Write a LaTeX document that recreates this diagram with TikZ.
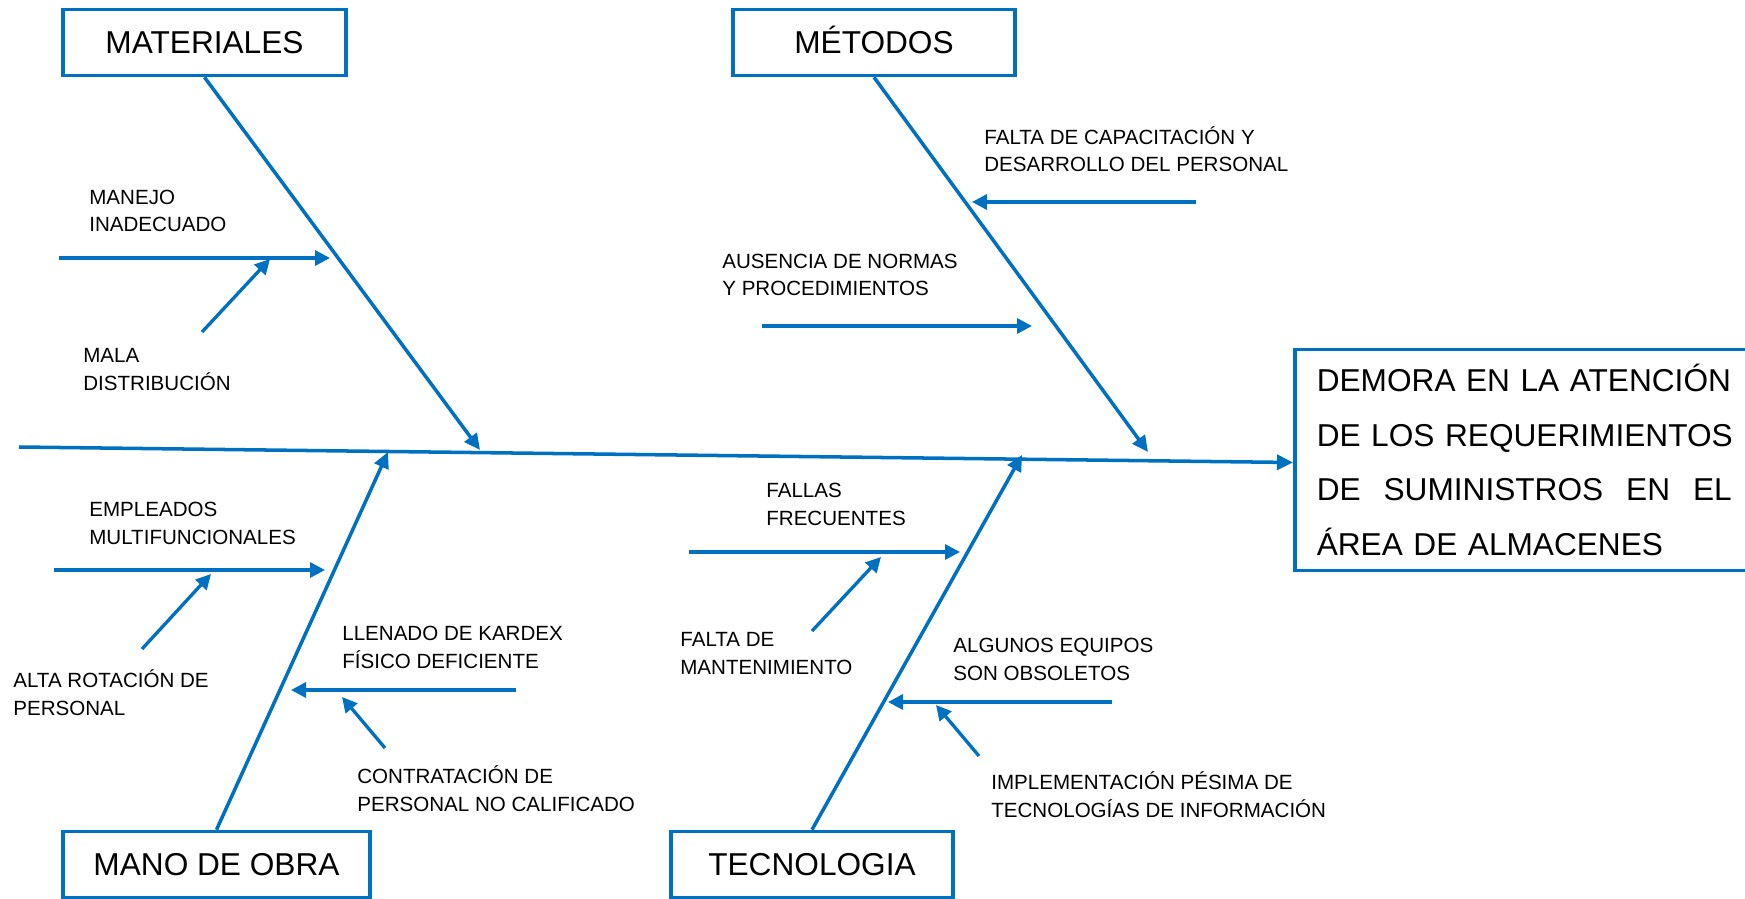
\documentclass[tikz,border=0pt]{standalone}
\usepackage{fontspec}
\setmainfont{Liberation Sans}
\usetikzlibrary{arrows.meta}
\definecolor{fbblue}{RGB}{0,112,192}

\begin{document}
\begin{tikzpicture}[x=0.2mm,y=-0.2mm,
    cat/.style={draw=fbblue,line width=2pt,minimum height=1.32cm,inner sep=0pt,
                text height=13pt,text depth=0pt,font=\fontsize{18}{22}\selectfont},
    lbl/.style={anchor=base west,inner sep=0pt,align=left,font=\fontsize{11.7}{15.4}\selectfont},
    arr/.style={fbblue,line width=1.9pt,-{Triangle[length=3mm,width=3mm]}},
    bone/.style={fbblue,line width=2pt,-{Triangle[length=3.2mm,width=3mm]}}]
    \useasboundingbox (0,0) rectangle (1745,899);

    \node[cat,minimum width=5.66cm] (mat) at (204.5,42.5) {MATERIALES};
    \node[cat,minimum width=5.64cm] (met) at (874,42.5) {MÉTODOS};
    \node[cat,minimum width=6.14cm] (mob) at (216.5,864.5) {MANO DE OBRA};
    \node[cat,minimum width=5.64cm] (tec) at (812,864.5) {TECNOLOGIA};
    \node[draw=fbblue,line width=2pt,anchor=west,minimum height=4.42cm,text width=8.3cm,
          inner xsep=0.44cm,inner ysep=0pt,align=left,font=\fontsize{18}{31.2}\selectfont]
          (eff) at (1293,460)
          {\makebox[8.3cm][s]{DEMORA EN LA ATENCIÓN}\\
           \makebox[8.3cm][s]{DE LOS REQUERIMIENTOS}\\
           \makebox[8.3cm]{DE\hfill SUMINISTROS\hfill EN\hfill EL}\\
           ÁREA DE ALMACENES};

    % spine and main bones
    \coordinate (tail) at (19,447);
    \coordinate (t1) at (480,450);
    \coordinate (t2) at (1148,452);
    \coordinate (t3) at (388,452);
    \coordinate (t4) at (1022,455);
    \path[bone] (tail) edge ([yshift=-0.05cm]eff.west);
    \path[bone] (mat.south) edge (t1);
    \path[bone] (met.south) edge (t2);
    \path[bone] (mob.north) edge (t3);
    \path[bone] (tec.north) edge (t4);

    % materiales
    \node[lbl] (l1) at (89,232) {MANEJO\\INADECUADO};
    \node[lbl] (l2) at (83,390) {MALA\\DISTRIBUCIÓN};
    \coordinate (a1) at (59,258);
    \coordinate (b1) at (330,258);
    \coordinate (a2) at (202,332);
    \coordinate (b2) at (270,259);
    \path[arr] (a1) edge (b1);
    \path[arr] (a2) edge (b2);

    % metodos
    \node[lbl] (l3) at (984,172) {FALTA DE CAPACITACIÓN Y\\DESARROLLO DEL PERSONAL};
    \node[lbl] (l4) at (722,296) {AUSENCIA DE NORMAS\\Y PROCEDIMIENTOS};
    \coordinate (a3) at (1196,202);
    \coordinate (b3) at (972,202);
    \coordinate (a4) at (762,326);
    \coordinate (b4) at (1032,326);
    \path[arr] (a3) edge (b3);
    \path[arr] (a4) edge (b4);

    % mano de obra
    \node[lbl] (l5) at (89,544) {EMPLEADOS\\MULTIFUNCIONALES};
    \node[lbl] (l6) at (13,715) {ALTA ROTACIÓN DE\\PERSONAL};
    \node[lbl] (l7) at (342,668) {LLENADO DE KARDEX\\FÍSICO DEFICIENTE};
    \node[lbl] (l8) at (357,811) {CONTRATACIÓN DE\\PERSONAL NO CALIFICADO};
    \coordinate (a5) at (54,570);
    \coordinate (b5) at (325,570);
    \coordinate (a6) at (142,649);
    \coordinate (b6) at (211,574);
    \coordinate (a7) at (516,690);
    \coordinate (b7) at (291,690);
    \coordinate (a8) at (385,748);
    \coordinate (b8) at (342,697);
    \path[arr] (a5) edge (b5);
    \path[arr] (a6) edge (b6);
    \path[arr] (a7) edge (b7);
    \path[arr] (a8) edge (b8);

    % tecnologia
    \node[lbl] (l9) at (766,525) {FALLAS\\FRECUENTES};
    \node[lbl] (l10) at (680,674) {FALTA DE\\MANTENIMIENTO};
    \node[lbl] (l11) at (953,680) {ALGUNOS EQUIPOS\\SON OBSOLETOS};
    \node[lbl] (l12) at (991,817) {IMPLEMENTACIÓN PÉSIMA DE\\TECNOLOGÍAS DE INFORMACIÓN};
    \coordinate (a9) at (689,552);
    \coordinate (b9) at (960,552);
    \coordinate (a10) at (812,631);
    \coordinate (b10) at (881,557);
    \coordinate (a11) at (1112,702);
    \coordinate (b11) at (888,702);
    \coordinate (a12) at (979,756);
    \coordinate (b12) at (936,705);
    \path[arr] (a9) edge (b9);
    \path[arr] (a10) edge (b10);
    \path[arr] (a11) edge (b11);
    \path[arr] (a12) edge (b12);

\end{tikzpicture}
\end{document}
